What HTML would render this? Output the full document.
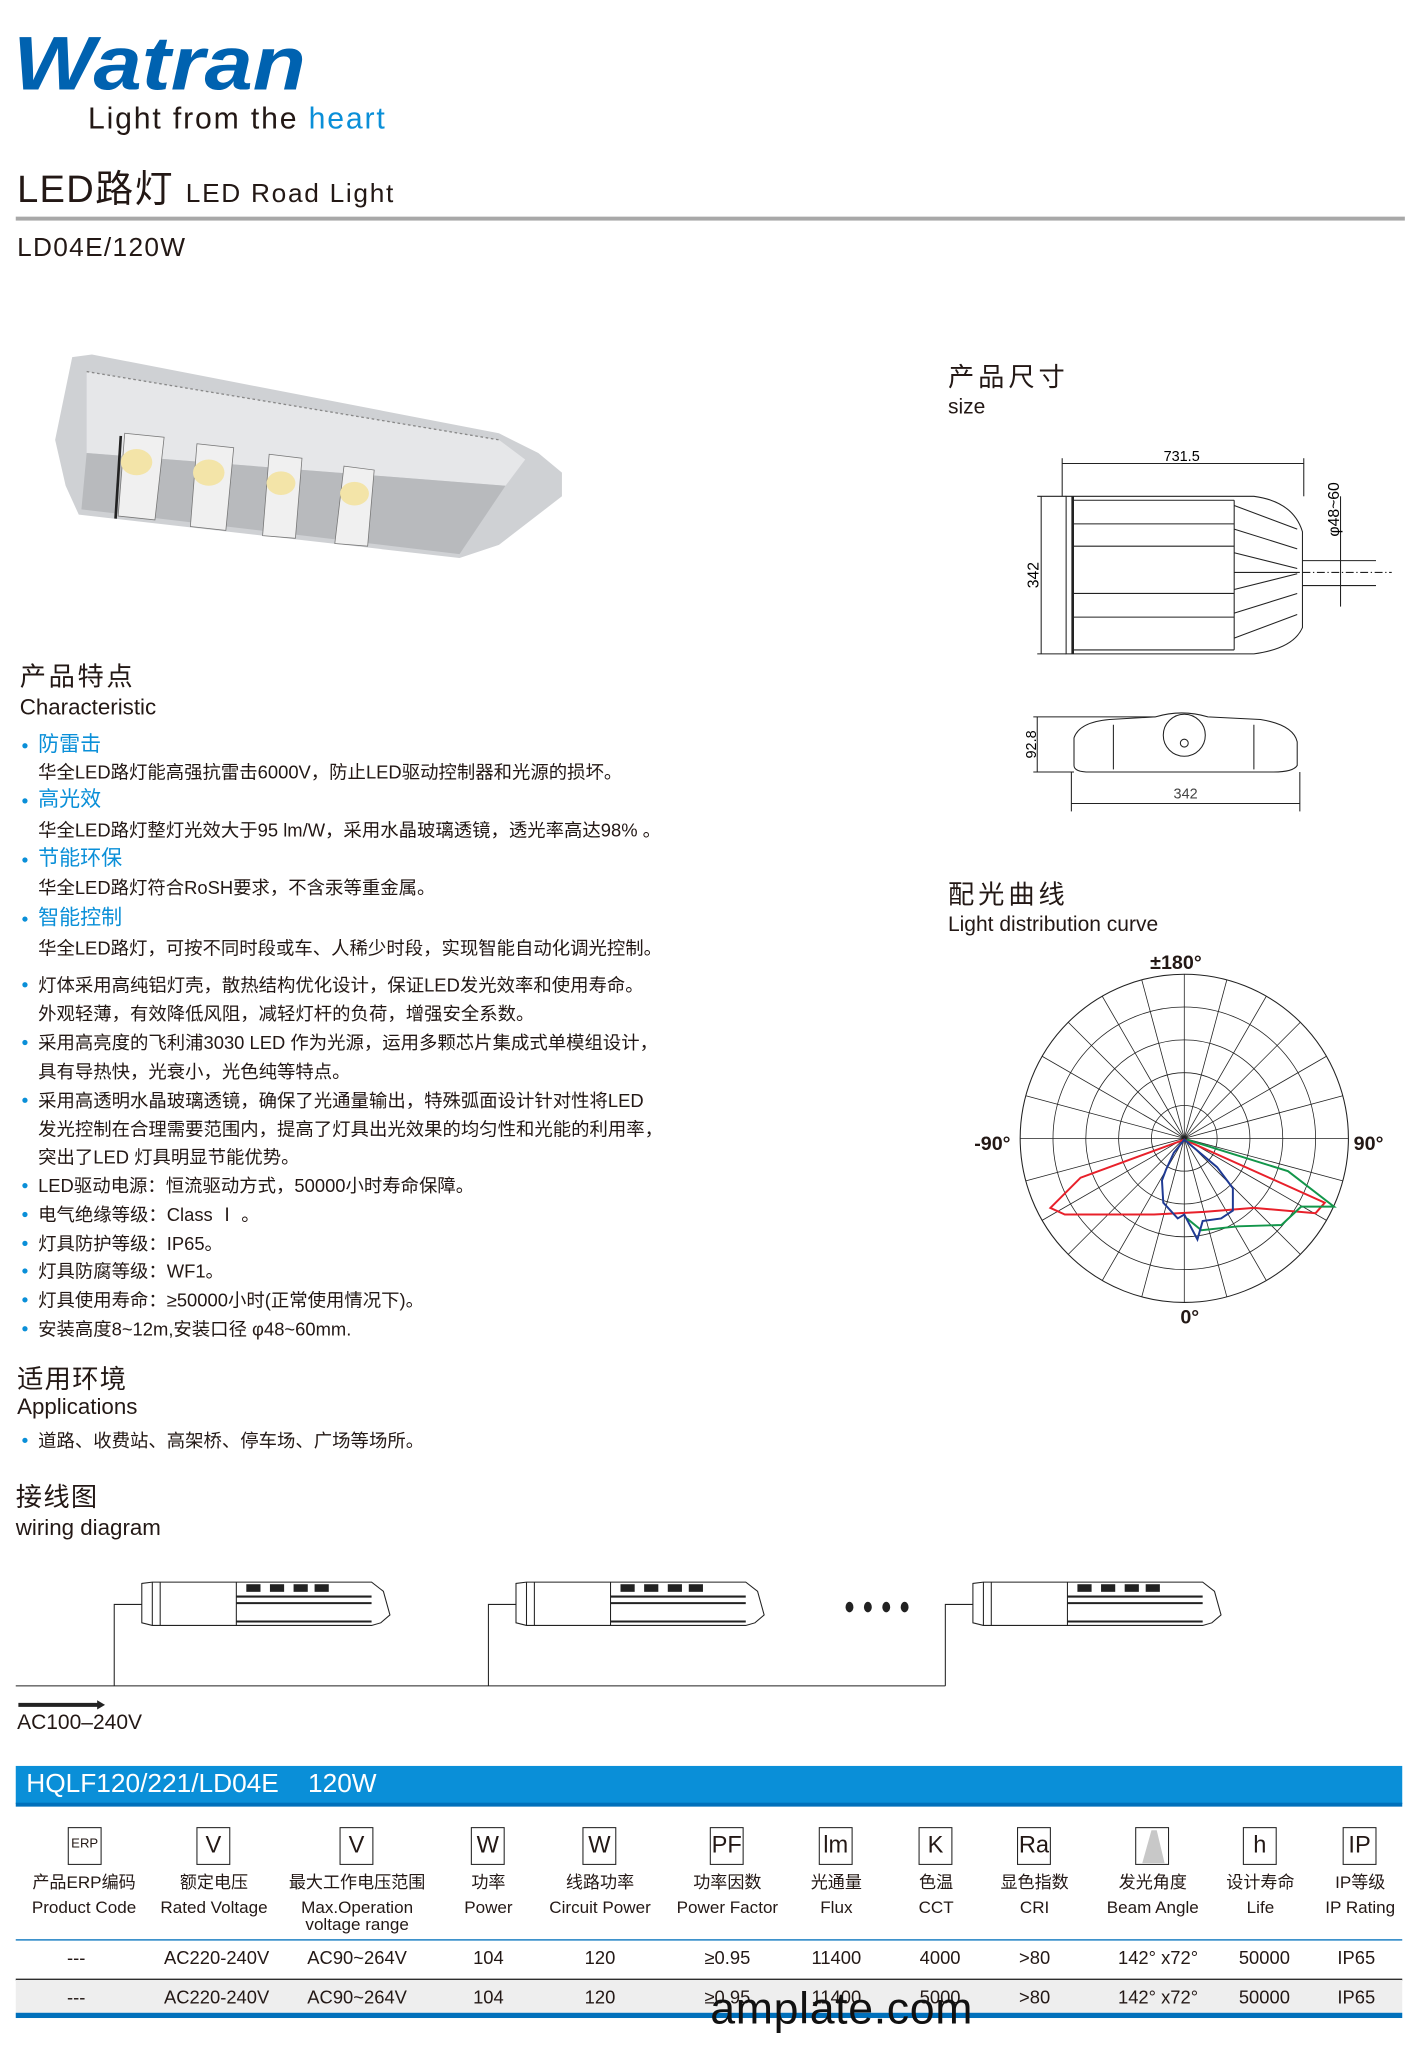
<!DOCTYPE html>
<html><head><meta charset="utf-8"><style>
html,body{margin:0;padding:0;background:#fff;overflow:hidden}
#w{position:absolute;left:0;top:0;width:1080px;height:1566px;transform:scale(1.31296);transform-origin:0 0;font-family:"Liberation Sans","Noto Sans CJK SC",sans-serif;color:#231815}
.t{position:absolute;white-space:nowrap;line-height:1}
.b{color:#0a8fd8}
.dot{position:absolute;width:4px;height:4px;border-radius:2px;background:#0a8fd8}
.c{position:absolute;text-align:center;white-space:nowrap;line-height:1}
</style></head><body><div id="w">
<div class="t" style="left:10px;top:20px;font-size:58px;font-weight:bold;font-style:italic;color:#0062b0;transform:scaleX(1.14);transform-origin:0 0">Watran</div>
<div class="t" style="left:67px;top:79px;font-size:23px;letter-spacing:1.4px">Light from the <span class="b">heart</span></div>
<div class="t" style="left:13px;top:131px;font-size:29px;letter-spacing:1px">LED路灯 <span style="font-size:20px;letter-spacing:1.3px">LED Road Light</span></div>
<div style="position:absolute;left:12px;top:165px;width:1058px;height:3px;background:#a8a8a8"></div>
<div class="t" style="left:13px;top:179px;font-size:20px;letter-spacing:1px">LD04E/120W</div>

<div class="t" style="left:722px;top:278px;font-size:20px;letter-spacing:3px">产品尺寸</div>
<div class="t" style="left:722px;top:303px;font-size:16px">size</div>

<div class="t" style="left:15px;top:506px;font-size:20px;letter-spacing:2px">产品特点</div>
<div class="t" style="left:15px;top:530px;font-size:17px">Characteristic</div>

<div class="t b" style="left:29px;top:560px;font-size:16px">防雷击</div>
<div class="t" style="left:29px;top:581px;font-size:14px">华全LED路灯能高强抗雷击6000V，防止LED驱动控制器和光源的损坏。</div>
<div class="t b" style="left:29px;top:602px;font-size:16px">高光效</div>
<div class="t" style="left:29px;top:625px;font-size:14px">华全LED路灯整灯光效大于95 lm/W，采用水晶玻璃透镜，透光率高达98% 。</div>
<div class="t b" style="left:29px;top:647px;font-size:16px">节能环保</div>
<div class="t" style="left:29px;top:669px;font-size:14px">华全LED路灯符合RoSH要求，不含汞等重金属。</div>
<div class="t b" style="left:29px;top:692px;font-size:16px">智能控制</div>
<div class="t" style="left:29px;top:715px;font-size:14px">华全LED路灯，可按不同时段或车、人稀少时段，实现智能自动化调光控制。</div>
<div class="t" style="left:29px;top:743px;font-size:14px">灯体采用高纯铝灯壳，散热结构优化设计，保证LED发光效率和使用寿命。</div>
<div class="t" style="left:29px;top:765px;font-size:14px">外观轻薄，有效降低风阻，减轻灯杆的负荷，增强安全系数。</div>
<div class="t" style="left:29px;top:787px;font-size:14px">采用高亮度的飞利浦3030 LED 作为光源，运用多颗芯片集成式单模组设计，</div>
<div class="t" style="left:29px;top:809px;font-size:14px">具有导热快，光衰小，光色纯等特点。</div>
<div class="t" style="left:29px;top:831px;font-size:14px">采用高透明水晶玻璃透镜，确保了光通量输出，特殊弧面设计针对性将LED</div>
<div class="t" style="left:29px;top:853px;font-size:14px">发光控制在合理需要范围内，提高了灯具出光效果的均匀性和光能的利用率，</div>
<div class="t" style="left:29px;top:874px;font-size:14px">突出了LED 灯具明显节能优势。</div>
<div class="t" style="left:29px;top:896px;font-size:14px">LED驱动电源：恒流驱动方式，50000小时寿命保障。</div>
<div class="t" style="left:29px;top:918px;font-size:14px">电气绝缘等级：Class Ⅰ 。</div>
<div class="t" style="left:29px;top:940px;font-size:14px">灯具防护等级：IP65。</div>
<div class="t" style="left:29px;top:961px;font-size:14px">灯具防腐等级：WF1。</div>
<div class="t" style="left:29px;top:983px;font-size:14px">灯具使用寿命：≥50000小时(正常使用情况下)。</div>
<div class="t" style="left:29px;top:1005px;font-size:14px">安装高度8~12m,安装口径 φ48~60mm.</div>
<div class="dot" style="left:17px;top:566px"></div><div class="dot" style="left:17px;top:608px"></div><div class="dot" style="left:17px;top:653px"></div><div class="dot" style="left:17px;top:698px"></div>
<div class="dot" style="left:17px;top:748px"></div><div class="dot" style="left:17px;top:792px"></div><div class="dot" style="left:17px;top:836px"></div><div class="dot" style="left:17px;top:901px"></div><div class="dot" style="left:17px;top:923px"></div><div class="dot" style="left:17px;top:945px"></div><div class="dot" style="left:17px;top:966px"></div><div class="dot" style="left:17px;top:988px"></div><div class="dot" style="left:17px;top:1010px"></div>

<div class="t" style="left:13px;top:1041px;font-size:20px;letter-spacing:1px">适用环境</div>
<div class="t" style="left:13px;top:1063px;font-size:17px">Applications</div>
<div class="dot" style="left:17px;top:1095px"></div>
<div class="t" style="left:29px;top:1090px;font-size:14px">道路、收费站、高架桥、停车场、广场等场所。</div>

<div class="t" style="left:12px;top:1131px;font-size:20px;letter-spacing:1px">接线图</div>
<div class="t" style="left:12px;top:1155px;font-size:17px">wiring diagram</div>
<div class="t" style="left:13px;top:1305px;font-size:16px">AC100–240V</div>

<div class="t" style="left:722px;top:672px;font-size:20px;letter-spacing:3px">配光曲线</div>
<div class="t" style="left:722px;top:697px;font-size:16px">Light distribution curve</div>
<div class="t" style="left:876px;top:726px;font-size:15px;font-weight:bold">±180°</div>
<div class="t" style="left:742px;top:864px;font-size:15px;font-weight:bold">-90°</div>
<div class="t" style="left:1031px;top:864px;font-size:15px;font-weight:bold">90°</div>
<div class="t" style="left:899px;top:996px;font-size:15px;font-weight:bold">0°</div>

<svg style="position:absolute;left:0;top:0" width="1080" height="1566">
<g>
<path d="M55,272 L70,270 L380,330 L410,345 L428,360 L428,378 L380,415 L350,425 L60,392 L50,370 L42,335 Z" fill="#cfd1d4"/>
<path d="M66,283 L380,335 L400,350 L385,370 L66,345 Z" fill="#e6e7e9"/>
<path d="M66,283 L380,335" stroke="#888" stroke-dasharray="2,2" fill="none"/>
<path d="M66,345 L62,388 L350,422 L385,370 Z" fill="#b8babd"/>
<g fill="#f0f0f0" stroke="#777" stroke-width="0.6">
<path d="M95,330 L125,333 L118,396 L90,393 Z"/><path d="M150,338 L178,341 L172,404 L145,401 Z"/><path d="M205,346 L230,349 L225,410 L200,408 Z"/><path d="M262,355 L285,358 L280,416 L255,414 Z"/></g>
<g fill="#f3e4a8"><ellipse cx="104" cy="352" rx="12" ry="10"/><ellipse cx="159" cy="360" rx="12" ry="10"/><ellipse cx="214" cy="368" rx="11" ry="9"/><ellipse cx="270" cy="376" rx="11" ry="9"/></g>
<path d="M92,332 L88,395" stroke="#222" stroke-width="2"/>
</g>
<g stroke="#222" fill="none" stroke-width="0.8">
<line x1="809" y1="353" x2="993" y2="353"/><line x1="809" y1="349" x2="809" y2="378"/><line x1="993" y1="349" x2="993" y2="378"/>
<path d="M812,378 L955,378 Q985,382 992,405 L992,478 Q985,494 955,498 L812,498 Z"/>
<line x1="817" y1="378" x2="817" y2="498" stroke-width="2"/>
<line x1="817" y1="381" x2="940" y2="381"/><line x1="817" y1="399" x2="940" y2="399"/><line x1="817" y1="416" x2="940" y2="416"/>
<line x1="817" y1="452" x2="940" y2="452"/><line x1="817" y1="470" x2="940" y2="470"/><line x1="817" y1="495" x2="940" y2="495"/>
<line x1="940" y1="381" x2="940" y2="495"/>
<path d="M940,385 L988,403 M940,403 L988,418 M940,421 L988,433 M940,449 L988,437 M940,467 L988,452 M940,486 L988,468"/>
<line x1="940" y1="436" x2="990" y2="436"/>
<line x1="992" y1="427" x2="1048" y2="427"/><line x1="992" y1="446" x2="1048" y2="446"/>
<line x1="992" y1="436" x2="1060" y2="436" stroke-dasharray="6,2,1,2"/>
<line x1="1021" y1="378" x2="1021" y2="462"/>
<line x1="790" y1="378" x2="812" y2="378"/><line x1="790" y1="498" x2="812" y2="498"/><line x1="793" y1="378" x2="793" y2="498"/>
</g>
<text x="900" y="351" font-size="11" text-anchor="middle" font-family="Liberation Sans">731.5</text>
<text transform="translate(791,438) rotate(-90)" font-size="12" text-anchor="middle" font-family="Liberation Sans">342</text>
<text transform="translate(1020,388) rotate(-90)" font-size="12" text-anchor="middle" font-family="Liberation Sans">φ48~60</text>
<g stroke="#222" fill="none" stroke-width="0.8">
<path d="M818,583 L818,562 Q822,550 845,548 L880,546 Q900,540 920,546 L960,548 Q985,552 988,565 L988,583 Q985,588 970,588 L830,588 Q818,588 818,583 Z"/>
<circle cx="902" cy="560" r="16"/><circle cx="902" cy="566" r="3"/>
<line x1="787" y1="546" x2="880" y2="546"/><line x1="787" y1="588" x2="818" y2="588"/><line x1="790" y1="546" x2="790" y2="588"/>
<line x1="816" y1="588" x2="816" y2="618"/><line x1="990" y1="588" x2="990" y2="618"/><line x1="816" y1="612" x2="990" y2="612"/>
<line x1="848" y1="552" x2="848" y2="586"/><line x1="955" y1="552" x2="955" y2="586"/>
</g>
<text transform="translate(789,567) rotate(-90)" font-size="11" text-anchor="middle" font-family="Liberation Sans">92.8</text>
<text x="903" y="608" font-size="11" text-anchor="middle" font-family="Liberation Sans" fill="#444">342</text>
<g transform="translate(902,867)" stroke="#222" stroke-width="0.6" fill="none">
<circle r="25"/><circle r="50"/><circle r="75"/><circle r="100"/><circle r="125" stroke-width="0.8"/>
<line x1="0" y1="-125" x2="0" y2="125"/><line x1="-125" y1="0" x2="125" y2="0"/>
<line x1="-32.4" y1="-120.7" x2="32.4" y2="120.7"/><line x1="32.4" y1="-120.7" x2="-32.4" y2="120.7"/>
<line x1="-62.5" y1="-108.3" x2="62.5" y2="108.3"/><line x1="62.5" y1="-108.3" x2="-62.5" y2="108.3"/>
<line x1="-88.4" y1="-88.4" x2="88.4" y2="88.4"/><line x1="88.4" y1="-88.4" x2="-88.4" y2="88.4"/>
<line x1="-108.3" y1="-62.5" x2="108.3" y2="62.5"/><line x1="108.3" y1="-62.5" x2="-108.3" y2="62.5"/>
<line x1="-120.7" y1="-32.4" x2="120.7" y2="32.4"/><line x1="120.7" y1="-32.4" x2="-120.7" y2="32.4"/>
</g>
<g fill="none" stroke-width="1.5">
<path d="M902,868 L823,897 L800,920 L811,925 L879,925 L917,923 L955,920 L1002,924 L1009,916 Z" stroke="#e8202a"/>
<path d="M904,868 L981,892 L1016,919 L991,919 L976,933 L943,934 L915,937 L904,928" stroke="#12964a"/>
<path d="M902,868 L894,878 L888,891 L885,899 L886,916 L897,928 L902,925 L912,944 L916,930 L930,928 L939,922 L939,905 L927,889 Z" stroke="#1f3a93"/>
</g>
<g stroke="#222" fill="none" stroke-width="0.8">
<line x1="12" y1="1284" x2="720" y2="1284"/>
<path d="M87,1284 L87,1222 L108,1222 M372,1284 L372,1222 L393,1222 M720,1284 L720,1222 L741,1222"/>
</g>
<g id="lamp" stroke="#222" fill="none" stroke-width="0.8">
<path d="M108,1206 L116,1205 L283,1205 L292,1212 L297,1230 L290,1236 L283,1238 L116,1238 L108,1236 Z"/>
<line x1="116" y1="1205" x2="116" y2="1238"/><line x1="122" y1="1205" x2="122" y2="1238"/>
<line x1="180" y1="1205" x2="180" y2="1238"/>
<line x1="180" y1="1216" x2="283" y2="1216" stroke-width="1.6"/><line x1="180" y1="1221" x2="283" y2="1221" stroke-width="1.6"/>
<line x1="180" y1="1235" x2="283" y2="1235" stroke-width="1.6"/>
<rect x="188" y="1207" width="10" height="5" fill="#222"/><rect x="206" y="1207" width="10" height="5" fill="#222"/><rect x="224" y="1207" width="10" height="5" fill="#222"/><rect x="240" y="1207" width="10" height="5" fill="#222"/>
</g>
<use href="#lamp" x="285"/><use href="#lamp" x="633"/>
<g fill="#222"><ellipse cx="647" cy="1224" rx="3" ry="4"/><ellipse cx="661" cy="1224" rx="3" ry="4"/><ellipse cx="675" cy="1224" rx="3" ry="4"/><ellipse cx="689" cy="1224" rx="3" ry="4"/></g>
<path d="M14,1297 L74,1297 L74,1295 L80,1298.5 L74,1302 L74,1300 L14,1300 Z" fill="#222"/>
<rect x="12" y="1345" width="1056" height="29" fill="#0a8fd8"/>
<rect x="12" y="1373" width="1056" height="3" fill="#0070bb"/>
<rect x="12" y="1477" width="1056" height="1" fill="#0070bb"/>
<rect x="12" y="1507" width="1056" height="1.5" fill="#222"/>
<rect x="12" y="1508" width="1056" height="25" fill="#eeeeee"/>
<rect x="12" y="1533" width="1056" height="4" fill="#0070bb"/>
<g stroke="#222" fill="none" stroke-width="0.8">
<rect x="52" y="1392" width="25" height="28"/><rect x="150" y="1392" width="25" height="28"/><rect x="259" y="1392" width="25" height="28"/><rect x="359" y="1392" width="25" height="28"/><rect x="444" y="1392" width="25" height="28"/><rect x="541" y="1392" width="25" height="28"/><rect x="624" y="1392" width="25" height="28"/><rect x="700" y="1392" width="25" height="28"/><rect x="775" y="1392" width="25" height="28"/><rect x="865" y="1392" width="25" height="28"/><rect x="947" y="1392" width="25" height="28"/><rect x="1023" y="1392" width="25" height="28"/>
</g>
<path d="M877,1394 L881,1394 L887,1419 L870,1419 Z" fill="#c8c8c8"/>
</svg>
<div class="t" style="left:20px;top:1349px;font-size:20px;color:#fff">HQLF120/221/LD04E&nbsp;&nbsp;&nbsp;&nbsp;120W</div>
<div style="position:absolute;left:0;top:1396px;width:1080px;font-size:18px">
<div class="c" style="left:52px;width:25px;font-size:10px;top:4px">ERP</div>
<div class="c" style="left:150px;width:25px">V</div><div class="c" style="left:259px;width:25px">V</div><div class="c" style="left:359px;width:25px">W</div><div class="c" style="left:444px;width:25px">W</div><div class="c" style="left:541px;width:25px">PF</div><div class="c" style="left:624px;width:25px">lm</div><div class="c" style="left:700px;width:25px">K</div><div class="c" style="left:775px;width:25px">Ra</div><div class="c" style="left:947px;width:25px">h</div><div class="c" style="left:1023px;width:25px">IP</div>
</div>
<div style="position:absolute;left:0;top:0;font-size:13px">
<div class="c" style="left:4px;width:120px;top:1427px">产品ERP编码</div><div class="c" style="left:4px;width:120px;top:1446px">Product Code</div>
<div class="c" style="left:103px;width:120px;top:1427px">额定电压</div><div class="c" style="left:103px;width:120px;top:1446px">Rated Voltage</div>
<div class="c" style="left:202px;width:140px;top:1427px">最大工作电压范围</div><div class="c" style="left:202px;width:140px;top:1446px">Max.Operation</div><div class="c" style="left:202px;width:140px;top:1459px">voltage range</div>
<div class="c" style="left:332px;width:80px;top:1427px">功率</div><div class="c" style="left:332px;width:80px;top:1446px">Power</div>
<div class="c" style="left:407px;width:100px;top:1427px">线路功率</div><div class="c" style="left:407px;width:100px;top:1446px">Circuit Power</div>
<div class="c" style="left:504px;width:100px;top:1427px">功率因数</div><div class="c" style="left:504px;width:100px;top:1446px">Power Factor</div>
<div class="c" style="left:597px;width:80px;top:1427px">光通量</div><div class="c" style="left:597px;width:80px;top:1446px">Flux</div>
<div class="c" style="left:673px;width:80px;top:1427px">色温</div><div class="c" style="left:673px;width:80px;top:1446px">CCT</div>
<div class="c" style="left:748px;width:80px;top:1427px">显色指数</div><div class="c" style="left:748px;width:80px;top:1446px">CRI</div>
<div class="c" style="left:828px;width:100px;top:1427px">发光角度</div><div class="c" style="left:828px;width:100px;top:1446px">Beam Angle</div>
<div class="c" style="left:920px;width:80px;top:1427px">设计寿命</div><div class="c" style="left:920px;width:80px;top:1446px">Life</div>
<div class="c" style="left:996px;width:80px;top:1427px">IP等级</div><div class="c" style="left:996px;width:80px;top:1446px">IP Rating</div>
</div>
<div style="position:absolute;left:0;top:1484px;font-size:14px">
<div class="c" style="left:18px;width:80px">---</div><div class="c" style="left:105px;width:120px">AC220-240V</div><div class="c" style="left:212px;width:120px">AC90~264V</div><div class="c" style="left:332px;width:80px">104</div><div class="c" style="left:417px;width:80px">120</div><div class="c" style="left:514px;width:80px">≥0.95</div><div class="c" style="left:597px;width:80px">11400</div><div class="c" style="left:676px;width:80px">4000</div><div class="c" style="left:748px;width:80px">&gt;80</div><div class="c" style="left:822px;width:120px">142° x72°</div><div class="c" style="left:923px;width:80px">50000</div><div class="c" style="left:993px;width:80px">IP65</div>
</div>
<div style="position:absolute;left:0;top:1514px;font-size:14px">
<div class="c" style="left:18px;width:80px">---</div><div class="c" style="left:105px;width:120px">AC220-240V</div><div class="c" style="left:212px;width:120px">AC90~264V</div><div class="c" style="left:332px;width:80px">104</div><div class="c" style="left:417px;width:80px">120</div><div class="c" style="left:514px;width:80px">≥0.95</div><div class="c" style="left:597px;width:80px">11400</div><div class="c" style="left:676px;width:80px">5000</div><div class="c" style="left:748px;width:80px">&gt;80</div><div class="c" style="left:822px;width:120px">142° x72°</div><div class="c" style="left:923px;width:80px">50000</div><div class="c" style="left:993px;width:80px">IP65</div>
</div>
<div class="t" style="left:541px;top:1513px;font-size:34px;color:#111;letter-spacing:0.5px">amplate.com</div>
</div></body></html>
